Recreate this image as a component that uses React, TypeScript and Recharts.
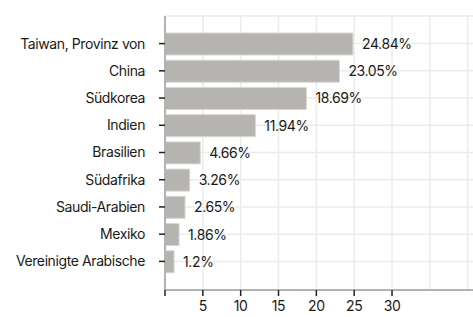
import React from "react";
import { BarChart, Bar, XAxis, YAxis, CartesianGrid, LabelList } from "recharts";

const countries = [
  "Taiwan, Provinz von",
  "China",
  "Südkorea",
  "Indien",
  "Brasilien",
  "Südafrika",
  "Saudi-Arabien",
  "Mexiko",
  "Vereinigte Arabische",
];
const shares = [24.84, 23.05, 18.69, 11.94, 4.66, 3.26, 2.65, 1.86, 1.2];
const xTicks = [0, 5, 10, 15, 20, 25, 30];
const gridValues = [5, 10, 15, 20, 25, 30, 35, 40];

const data = countries.map((name, i) => ({ name, value: shares[i] }));

const font = "Inter, 'Noto Sans', sans-serif";
const textStyle = { fill: "#1a1a1a", fontSize: 14, fontFamily: font, letterSpacing: -0.4 };

export default function App() {
  return (
    <div style={{ position: "absolute", left: 0, top: 0, width: 473, height: 317, background: "#fff" }}>
      <BarChart
        width={473}
        height={317}
        data={data}
        layout="vertical"
        margin={{ top: 16, right: 0, bottom: 0, left: 0 }}
        barSize={22}
      >
        <CartesianGrid stroke="#ebebeb" strokeWidth={1.5} verticalValues={gridValues} />
        <XAxis
          type="number"
          domain={[0, 40.7]}
          ticks={xTicks}
          interval={0}
          height={27}
          allowDataOverflow
          tickFormatter={(v: number) => (v === 0 ? "" : String(v))}
          axisLine={{ stroke: "#b3b3b3", strokeWidth: 2 }}
          tickLine={{ stroke: "#222", strokeWidth: 1.5 }}
          tickSize={6}
          tickMargin={5}
          tick={textStyle}
        />
        <YAxis
          type="category"
          dataKey="name"
          width={165}
          padding={{ top: 14, bottom: 15 }}
          axisLine={{ stroke: "#b3b3b3", strokeWidth: 2 }}
          tickLine={{ stroke: "#222", strokeWidth: 1.5 }}
          tickSize={6}
          tickMargin={14}
          interval={0}
          tick={textStyle}
        />
        <Bar dataKey="value" fill="#b5b4b0" stroke="#d8d7d4" strokeWidth={1} isAnimationActive={false}>
          <LabelList
            dataKey="value"
            position="right"
            offset={9}
            formatter={(v: number) => `${v}%`}
            style={textStyle}
          />
        </Bar>
      </BarChart>
    </div>
  );
}
